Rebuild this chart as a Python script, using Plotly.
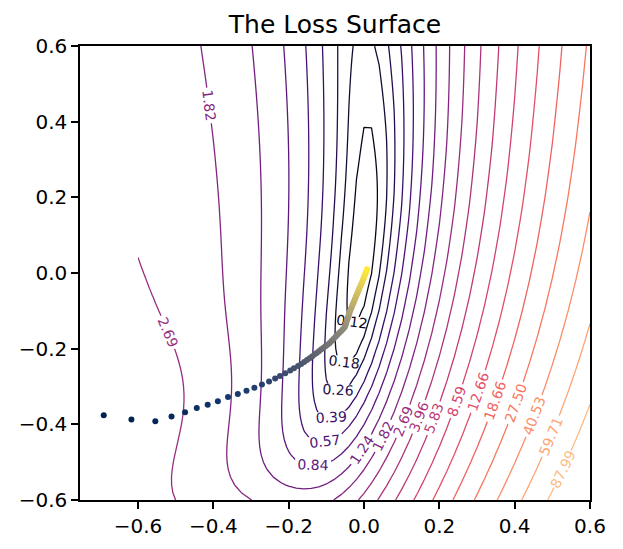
import numpy as np
import plotly.graph_objects as go
from plotly.colors import sample_colorscale

# contour levels as labelled on the picture
levels = [0.12, 0.18, 0.26, 0.39, 0.57, 0.84, 1.24, 1.82, 2.69, 3.96,
          5.83, 8.59, 12.66, 18.66, 27.50, 40.53, 59.71, 87.99]

# gradient descent path
path_x = [-0.691, -0.6175, -0.554, -0.511, -0.475, -0.444, -0.415, -0.388, -0.361, -0.335,
          -0.312, -0.291, -0.271, -0.252, -0.236, -0.223, -0.209, -0.196, -0.186, -0.175,
          -0.1667, -0.1588, -0.1514, -0.1443, -0.1379, -0.1317, -0.1257, -0.1197, -0.1140, -0.1084,
          -0.1027, -0.0968, -0.0911, -0.0861, -0.0811, -0.0761, -0.0711, -0.0661, -0.0611, -0.0561,
          -0.0515, -0.0495, -0.0477, -0.0460, -0.0442, -0.0425, -0.0407, -0.0390, -0.0371, -0.0349,
          -0.0328, -0.0306, -0.0285, -0.0263, -0.0242, -0.0220, -0.0199, -0.0177, -0.0155, -0.0133,
          -0.0111, -0.0088, -0.0066, -0.0044, -0.0023, -0.0003, 0.0018, 0.0037, 0.0058, 0.0080]
path_y = [-0.376, -0.387, -0.392, -0.379, -0.368, -0.357, -0.348, -0.339, -0.328, -0.320,
          -0.311, -0.303, -0.295, -0.287, -0.279, -0.272, -0.265, -0.258, -0.252, -0.246,
          -0.2404, -0.2351, -0.2300, -0.2252, -0.2204, -0.2157, -0.2112, -0.2067, -0.2024, -0.1982,
          -0.1938, -0.1894, -0.1851, -0.1799, -0.1746, -0.1694, -0.1642, -0.1589, -0.1537, -0.1484,
          -0.1436, -0.1383, -0.1330, -0.1276, -0.1222, -0.1168, -0.1114, -0.1061, -0.1007, -0.0955,
          -0.0902, -0.0849, -0.0798, -0.0745, -0.0693, -0.0640, -0.0587, -0.0536, -0.0483, -0.0432,
          -0.0379, -0.0327, -0.0275, -0.0223, -0.0171, -0.0118, -0.0065, -0.0012, 0.0041, 0.0100]

tick_vals = [-0.6, -0.4, -0.2, 0.0, 0.2, 0.4, 0.6]
tick_text = ["\u22120.6", "\u22120.4", "\u22120.2", "0.0", "0.2", "0.4", "0.6"]

magma = ['#000004', '#140e36', '#3b0f70', '#641a80', '#8c2981', '#b73779',
         '#de4968', '#f7705c', '#fe9f6d', '#fecf92', '#fcfdbf']
magma_scale = [[i / 10, c] for i, c in enumerate(magma)]

# parameter grid for the loss surface
w_grid = np.linspace(-0.6, 0.6, 61)
b_grid = np.linspace(-0.6, 0.6, 61)
W, B = np.meshgrid(w_grid, b_grid)


def loss_surface(W, B):
    # valley floor line and its height, fitted by eye to the picture
    centre = -0.01 + 0.1247 * B - 0.208 * B**2 + 0.047 * B**3
    u = W - centre
    h_left = 32 - 12 * B + 6 * B**2 + 6 * np.exp(-((B + 0.35) / 0.2)**2)
    h_right = 30.5 - 19 * B
    side = 1 / (1 + np.exp(u / 0.05))
    h = h_right + (h_left - h_right) * side
    floor = 0.025 * np.exp(-6.8 * B) + 0.065 * np.exp(1.5 * B)
    near = np.exp(-(u / 0.34)**2)
    return floor * near + h * u**2 * np.exp(2.4 * u)


Z = loss_surface(W, B)

fig = go.Figure()

n_lv = len(levels)
level_colors = [sample_colorscale(magma_scale, [(k + 1) / (n_lv + 3)])[0] for k in range(n_lv)]
for lv, col in zip(levels, level_colors):
    fig.add_trace(go.Contour(
        x=w_grid, y=b_grid, z=Z,
        autocontour=False,
        contours=dict(start=lv, end=lv, size=1, coloring='none',
                      showlabels=True, labelformat='.2f',
                      labelfont=dict(size=14, color=col, family='DejaVu Sans')),
        line=dict(color=col, width=1.3, smoothing=0),
        showscale=False, hoverinfo='skip'
    ))

n_pts = len(path_x)
fig.add_trace(go.Scatter(
    x=path_x, y=path_y, mode='markers',
    marker=dict(size=6, color=list(range(n_pts)), colorscale='Cividis',
                cmin=0, cmax=n_pts - 1, showscale=False, line=dict(width=0)),
    showlegend=False, hoverinfo='skip'
))

# the short top contour is too short for plotly's own label placement
fig.add_annotation(x=0.527, y=-0.52, text=f"{levels[-1]:.2f}", showarrow=False,
                   textangle=-64, bgcolor='white', borderpad=0,
                   font=dict(size=14, color=level_colors[-1], family='DejaVu Sans'))

axis_style = dict(showline=True, mirror=True, linecolor='black', linewidth=1.5,
                  ticks='outside', ticklen=7, tickwidth=1.5, tickcolor='black',
                  showgrid=False, zeroline=False,
                  tickfont=dict(size=20, color='black', family='DejaVu Sans'))

fig.update_layout(
    width=623, height=549,
    margin=dict(l=72, r=41, t=38, b=57),
    paper_bgcolor='white', plot_bgcolor='white',
    showlegend=False,
    title=dict(text='The Loss Surface', x=0.5, xref='paper', xanchor='center',
               y=1 - 16 / 549, yref='container', yanchor='middle',
               font=dict(size=25, color='black', family='DejaVu Sans')),
    xaxis=dict(range=[-0.754, 0.6], tickvals=tick_vals, ticktext=tick_text, **axis_style),
    yaxis=dict(range=[-0.6, 0.6], tickvals=tick_vals, ticktext=tick_text, **axis_style),
)

fig.write_html("out.html")
